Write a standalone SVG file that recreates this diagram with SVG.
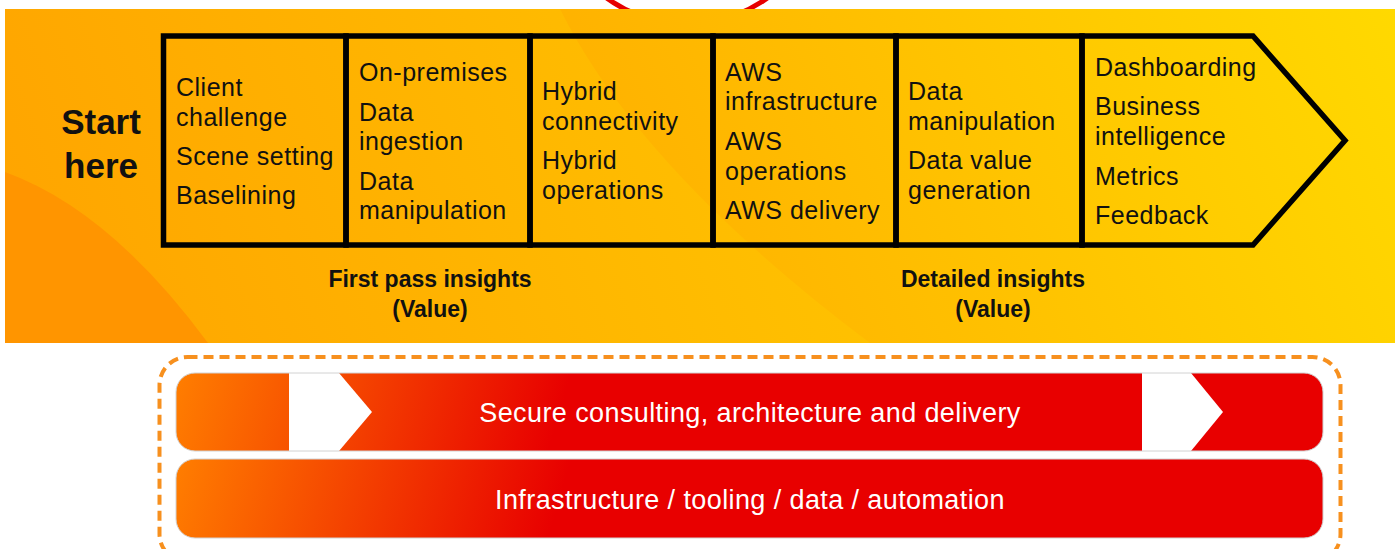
<svg xmlns="http://www.w3.org/2000/svg" width="1400" height="549" viewBox="0 0 1400 549">
<defs>
<linearGradient id="bgBase" gradientUnits="userSpaceOnUse" x1="5" y1="343" x2="900" y2="9">
<stop offset="0" stop-color="#ffa300"/>
<stop offset="1" stop-color="#ffc600"/>
</linearGradient>
<linearGradient id="bgRight" gradientUnits="userSpaceOnUse" x1="600" y1="343" x2="1395" y2="9">
<stop offset="0" stop-color="#ffae00"/>
<stop offset="1" stop-color="#ffd900"/>
</linearGradient>
<linearGradient id="bar1" gradientUnits="userSpaceOnUse" x1="176" y1="373" x2="540" y2="480">
<stop offset="0" stop-color="#ff7e00"/>
<stop offset="1" stop-color="#e80000"/>
</linearGradient>
<linearGradient id="bar2" gradientUnits="userSpaceOnUse" x1="176" y1="459" x2="540" y2="566">
<stop offset="0" stop-color="#ff7e00"/>
<stop offset="1" stop-color="#e80000"/>
</linearGradient>
<style>
.col{fill:none;stroke:#000;stroke-width:5.5;stroke-linejoin:miter}
.t{font-family:"Liberation Sans",Arial,sans-serif;font-size:25px;letter-spacing:0.5px;fill:#111}
.b{font-family:"Liberation Sans",Arial,sans-serif;font-weight:bold;fill:#111;text-anchor:middle}
.w{font-family:"Liberation Sans",Arial,sans-serif;font-size:27px;letter-spacing:0.4px;fill:#fff;text-anchor:middle}
.chev{fill:#fff}
.edge{fill:none;stroke:#d2d2d2;stroke-width:1}
</style>
</defs>

<g id="background">
<circle cx="687" cy="-113" r="137" fill="none" stroke="#e60000" stroke-width="5"/>
<rect x="5" y="9" width="1390" height="334" fill="url(#bgBase)"/>
<path d="M560,9 Q640,170 870,343 L1395,343 L1395,9 Z" fill="url(#bgRight)"/>
<path d="M5,172 Q110,210 208,343 L5,343 Z" fill="#ff9500"/>
</g>

<g id="start-here">
<text class="b" x="101" y="134" font-size="35">Start</text>
<text class="b" x="101" y="178" font-size="35">here</text>
</g>

<g id="col1">
<path class="col" d="M163.5,36 H346 V245 H163.5 Z"/>
<text class="t" x="176" y="96">Client</text>
<text class="t" x="176" y="126">challenge</text>
<text class="t" x="176" y="165">Scene setting</text>
<text class="t" x="176" y="204">Baselining</text>
</g>

<g id="col2">
<path class="col" d="M346,36 H530 V245 H346 Z"/>
<text class="t" x="359" y="81">On-premises</text>
<text class="t" x="359" y="121">Data</text>
<text class="t" x="359" y="150">ingestion</text>
<text class="t" x="359" y="190">Data</text>
<text class="t" x="359" y="219">manipulation</text>
</g>

<g id="col3">
<path class="col" d="M530,36 H713 V245 H530 Z"/>
<text class="t" x="542" y="100">Hybrid</text>
<text class="t" x="542" y="130">connectivity</text>
<text class="t" x="542" y="169">Hybrid</text>
<text class="t" x="542" y="199">operations</text>
</g>

<g id="col4">
<path class="col" d="M713,36 H896 V245 H713 Z"/>
<text class="t" x="725" y="81">AWS</text>
<text class="t" x="725" y="110">infrastructure</text>
<text class="t" x="725" y="150">AWS</text>
<text class="t" x="725" y="180">operations</text>
<text class="t" x="725" y="219">AWS delivery</text>
</g>

<g id="col5">
<path class="col" d="M896,36 H1082 V245 H896 Z"/>
<text class="t" x="908" y="100">Data</text>
<text class="t" x="908" y="130">manipulation</text>
<text class="t" x="908" y="169">Data value</text>
<text class="t" x="908" y="199">generation</text>
</g>

<g id="col6">
<path class="col" d="M1082,36 H1253 L1345,140.5 L1253,245 H1082 Z"/>
<text class="t" x="1095" y="76">Dashboarding</text>
<text class="t" x="1095" y="115">Business</text>
<text class="t" x="1095" y="145">intelligence</text>
<text class="t" x="1095" y="185">Metrics</text>
<text class="t" x="1095" y="224">Feedback</text>
</g>

<g id="first-pass">
<text class="b" x="430" y="287" font-size="23">First pass insights</text>
<text class="b" x="430" y="317" font-size="23">(Value)</text>
</g>

<g id="detailed">
<text class="b" x="993" y="287" font-size="23">Detailed insights</text>
<text class="b" x="993" y="317" font-size="23">(Value)</text>
</g>

<g id="foundation-frame">
<rect x="159.5" y="357" width="1181" height="205" rx="28" fill="none" stroke="#f7901e" stroke-width="4" stroke-dasharray="10 6"/>
</g>

<g id="secure-bar">
<rect x="176" y="373" width="1147" height="78" rx="19" fill="url(#bar1)"/>
<path class="chev" d="M289,373 H339 L372,412 L339,451 H289 Z"/>
<path class="chev" d="M1142,373 H1191 L1223,412 L1191,451 H1142 Z"/>
<rect class="edge" x="176" y="373" width="1147" height="78" rx="19"/>
<text class="w" x="750" y="422">Secure consulting, architecture and delivery</text>
</g>

<g id="infra-bar">
<rect x="176" y="459" width="1147" height="79" rx="19" fill="url(#bar2)"/>
<rect class="edge" x="176" y="459" width="1147" height="79" rx="19"/>
<text class="w" x="750" y="509">Infrastructure / tooling / data / automation</text>
</g>

<g id="connectors"/>
</svg>
